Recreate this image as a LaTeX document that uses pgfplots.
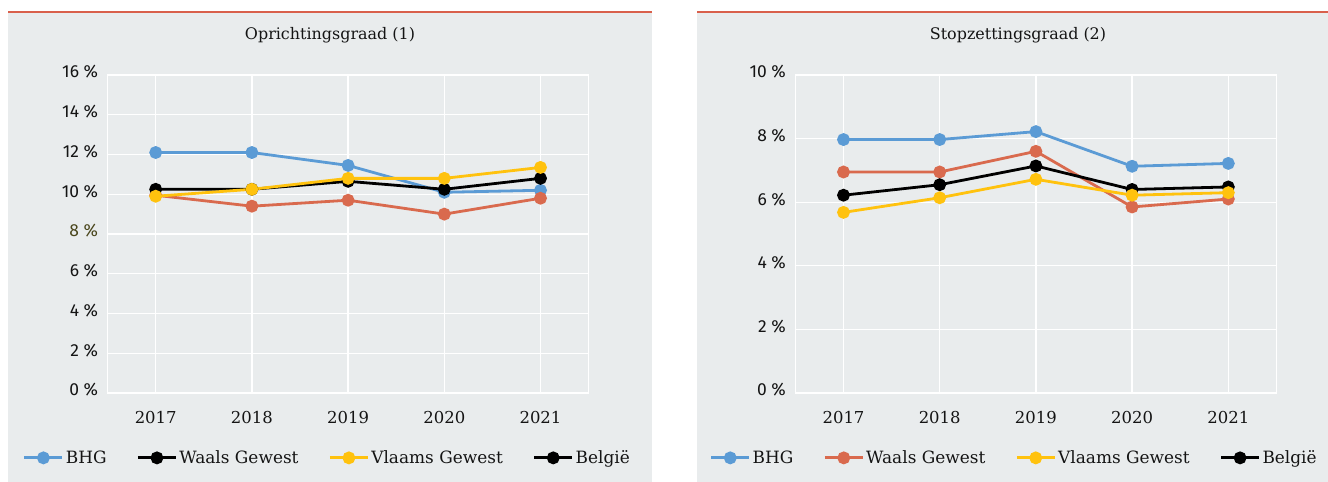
\documentclass[border=0pt]{standalone}
\usepackage{fontspec}
\setmainfont{DejaVu Serif}
\newfontfamily\tickfont{Fira Sans}
\usepackage{pgfplots}
\pgfplotsset{compat=1.18}

\definecolor{bgc}{HTML}{E9ECED}
\definecolor{topred}{HTML}{D9604C}
\definecolor{cblue}{HTML}{5B9BD5}
\definecolor{cred}{HTML}{D96A4E}
\definecolor{cyel}{HTML}{FFC20E}
\definecolor{txt}{HTML}{141414}
\definecolor{olive8}{HTML}{4A461C}

\pgfplotsset{
  panel/.style={
    scale only axis, width=481bp, height=318bp,
    xmin=-0.5, xmax=4.5,
    xtick={0,1,2,3,4}, xticklabels={2017,2018,2019,2020,2021},
    grid=major, grid style={white, line width=1.3bp},
    axis line style={white, line width=1.3bp},
    major tick length=0pt,
    tick label style={text=txt},
    xticklabel style={font=\fontsize{16.5}{19}\selectfont, yshift=-15bp},
    yticklabel style={font=\tickfont\fontsize{17.5}{20}\selectfont, xshift=-6bp, yshift=3bp},
    every axis plot/.append style={line width=2.8bp, mark=*, mark size=5bp},
    legend columns=4,
    legend style={draw=none, fill=none, font=\fontsize{17}{20}\selectfont, text=txt,
      anchor=center, /tikz/every even column/.append style={column sep=28bp}},
    legend image code/.code={\draw[mark repeat=2, mark phase=2, #1]
      plot coordinates {(0bp,0bp) (19bp,0bp) (38bp,0bp)};},
  },
  leg/.style={#1, line width=2.8bp, mark=*, mark size=5bp},
}

\begin{document}
\begin{tikzpicture}
\useasboundingbox (0,0) rectangle (1328bp,-482bp);
\fill[bgc] (8bp,-12bp) rectangle (652bp,-482bp);
\fill[bgc] (697bp,-12bp) rectangle (1328bp,-482bp);
\draw[topred, line width=2.2bp] (8bp,-12bp) -- (652bp,-12bp);
\draw[topred, line width=2.2bp] (697bp,-12bp) -- (1328bp,-12bp);
\node[text=txt, font=\fontsize{16}{19}\selectfont] at (330bp,-35bp) {Oprichtingsgraad (1)};
\node[text=txt, font=\fontsize{16}{19}\selectfont] at (1018bp,-35bp) {Stopzettingsgraad (2)};

\begin{axis}[panel, at={(107.6bp,-393bp)}, anchor=south west,
  ymin=0, ymax=16, ytick={0,2,...,16},
  yticklabels={0 \%,2 \%,4 \%,6 \%,\textcolor{olive8}{8 \%},10 \%,12 \%,14 \%,16 \%},
  legend style={at={(rel axis cs:0.457,-0.204)}}]
  \addplot[cblue, forget plot] coordinates {(0,12.1) (1,12.1) (2,11.45) (3,10.1) (4,10.2)};
  \addplot[cred, forget plot] coordinates {(0,9.95) (1,9.4) (2,9.7) (3,9.0) (4,9.8)};
  \addplot[black, forget plot] coordinates {(0,10.25) (1,10.25) (2,10.65) (3,10.25) (4,10.8)};
  \addplot[cyel, forget plot] coordinates {(0,9.9) (1,10.25) (2,10.8) (3,10.8) (4,11.35)};
  \addlegendimage{leg=cblue}
  \addlegendentry{BHG}
  \addlegendimage{leg=black}
  \addlegendentry{Waals Gewest}
  \addlegendimage{leg=cyel}
  \addlegendentry{Vlaams Gewest}
  \addlegendimage{leg=black}
  \addlegendentry{België}
\end{axis}

\begin{axis}[panel, at={(795.4bp,-393bp)}, anchor=south west,
  ymin=0, ymax=10, ytick={0,2,...,10},
  yticklabels={0 \%,2 \%,4 \%,6 \%,8 \%,10 \%},
  legend style={at={(rel axis cs:0.455,-0.204)}}]
  \addplot[cblue, forget plot] coordinates {(0,7.97) (1,7.97) (2,8.22) (3,7.13) (4,7.22)};
  \addplot[cred, forget plot] coordinates {(0,6.95) (1,6.95) (2,7.6) (3,5.85) (4,6.1)};
  \addplot[black, forget plot] coordinates {(0,6.22) (1,6.55) (2,7.14) (3,6.4) (4,6.48)};
  \addplot[cyel, forget plot] coordinates {(0,5.68) (1,6.14) (2,6.72) (3,6.22) (4,6.3)};
  \addlegendimage{leg=cblue}
  \addlegendentry{BHG}
  \addlegendimage{leg=cred}
  \addlegendentry{Waals Gewest}
  \addlegendimage{leg=cyel}
  \addlegendentry{Vlaams Gewest}
  \addlegendimage{leg=black}
  \addlegendentry{België}
\end{axis}
\end{tikzpicture}
\end{document}
